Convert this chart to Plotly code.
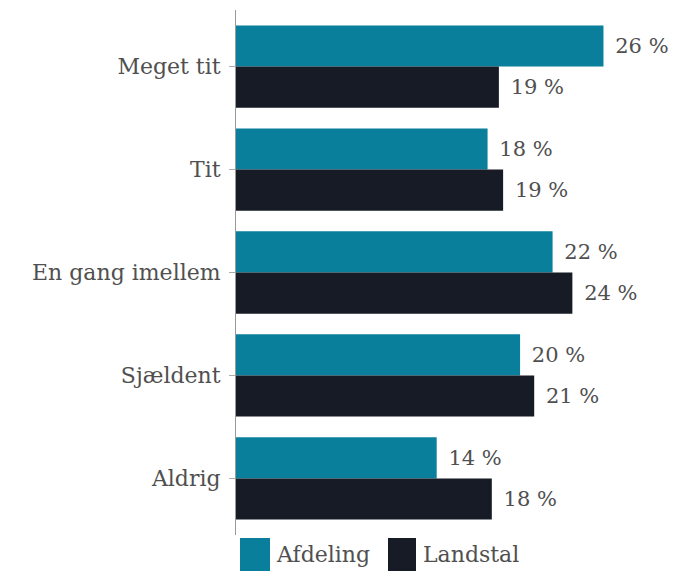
import plotly.graph_objects as go

categories = ["Meget tit", "Tit", "En gang imellem", "Sjældent", "Aldrig"]
afdeling = [26.0, 17.8, 22.4, 20.1, 14.2]
landstal = [18.6, 18.9, 23.8, 21.1, 18.1]
series_names = ["Afdeling", "Landstal"]

FONT = "DejaVu Serif"
TEAL = "#0a7f9c"
DARK = "#161b26"
GREY = "#505050"
colors = [TEAL, DARK]

fig = go.Figure()
for name, vals, col in zip(series_names, [afdeling, landstal], colors):
    fig.add_trace(go.Bar(
        y=categories, x=vals, name=name, orientation="h",
        marker=dict(color=col, line=dict(width=0)),
        text=vals, texttemplate=" \u200a%{x:.0f} %", textposition="outside",
        textfont=dict(family=FONT, size=21, color=GREY),
        cliponaxis=False, showlegend=False,
    ))

# legend drawn as large squares with labels, below the plot
legend_offsets = [(4, 34, 38), (152, 180, 185)]
for (s0, s1, tx), name, col in zip(legend_offsets, series_names, colors):
    fig.add_shape(type="rect", xref="paper", yref="paper",
                  xsizemode="pixel", ysizemode="pixel", xanchor=0, yanchor=0,
                  x0=s0, x1=s1, y0=-3, y1=-40, fillcolor=col, line=dict(width=0))
    fig.add_annotation(text=name, xref="paper", yref="paper", x=0, y=0,
                       xshift=tx, yshift=-19, xanchor="left", yanchor="middle",
                       showarrow=False, font=dict(family=FONT, size=22, color=GREY))

fig.update_layout(
    width=694, height=571,
    barmode="group", bargap=0.2, bargroupgap=0,
    plot_bgcolor="white", paper_bgcolor="white",
    margin=dict(l=228, r=42, t=2, b=44, autoexpand=False),
    font=dict(family=FONT, size=22, color=GREY),
    showlegend=False,
    xaxis=dict(range=[0, 30], showgrid=False, showticklabels=False, zeroline=False,
               showline=False, ticks="", automargin=False),
    yaxis=dict(autorange=False, range=[4.55, -0.55], showline=True, linecolor="#999999",
               linewidth=1, ticks="outside", ticklen=6, tickcolor="#aaaaaa",
               ticklabelstandoff=4,
               tickfont=dict(family=FONT, size=22, color=GREY), showgrid=False,
               automargin=False),
)

fig.write_html("out.html")
